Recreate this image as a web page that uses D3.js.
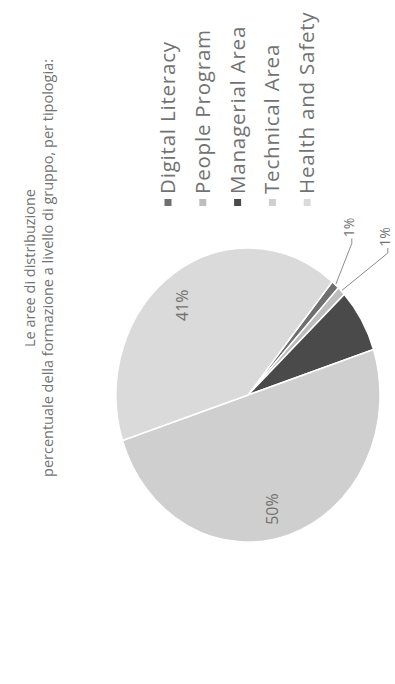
<!DOCTYPE html>
<html>
<head>
<meta charset="UTF-8">
<script src="https://d3js.org/d3.v7.min.js"></script>
<style>
  body { margin: 0; background: #fff; }
  svg { display: block; font-family: "Open Sans", Lato, sans-serif; }
</style>
</head>
<body>
<svg id="chart" width="395" height="684"></svg>
<script>
const categories = ["Digital Literacy", "People Program", "Managerial Area", "Technical Area", "Health and Safety"];
const shares = [1, 1, 7, 50, 41];
const showLabel = [true, true, false, true, true];
const titleLines = ["Le aree di distribuzione", "percentuale della formazione a livello di gruppo, per tipologia:"];

const svg = d3.select("#chart");
const textColor = "#727272";

const color = d3.scaleOrdinal()
  .domain(categories)
  .range(["#707070", "#bdbdbd", "#4a4a4a", "#cfcfcf", "#dadada"]);

// pie geometry (the scan is slightly stretched, hence sx / sy)
const cx = 248, cy = 395, R = 140, sx = 0.943, sy = 1.05;
const start = 39.6 * Math.PI / 180;
const pie = d3.pie().sort(null).value(d => d.v)
  .startAngle(start).endAngle(start + 2 * Math.PI);
const slices = pie(categories.map((c, i) => ({ c, v: shares[i], i })));
const arc = d3.arc().innerRadius(0).outerRadius(R);
const pt = (a, r) => [cx + sx * r * Math.sin(a), cy - sy * r * Math.cos(a)];
const mid = d => (d.startAngle + d.endAngle) / 2;

svg.append("g")
  .attr("transform", `translate(${cx},${cy}) scale(${sx},${sy})`)
  .selectAll("path")
  .data(slices)
  .join("path")
  .attr("d", arc)
  .attr("fill", d => color(d.data.c))
  .attr("stroke", "#fff")
  .attr("stroke-width", 1.5)
  .attr("vector-effect", "non-scaling-stroke");

const fmt = d => d3.format(".0f")(d) + "%";

// labels inside the big slices
const big = slices.filter(d => showLabel[d.data.i] && d.data.v >= 10);
svg.selectAll("text.big").data(big).join("text")
  .attr("class", "big")
  .attr("transform", d => { const p = pt(mid(d), R * 0.78); return `translate(${p[0] - 8},${p[1] + 5}) rotate(-90)`; })
  .attr("text-anchor", "middle")
  .attr("dominant-baseline", "central")
  .attr("font-size", 16)
  .attr("fill", textColor)
  .text(d => fmt(d.data.v));

// outside labels for the thin slices, stacked
const small = slices.filter(d => showLabel[d.data.i] && d.data.v < 5);
const smallPos = small.map((d, k) => [cx + R * 0.72 + k * 36, pt(mid(d), R * 1.52)[1]]);

svg.selectAll("polyline.lead").data(small).join("polyline")
  .attr("class", "lead")
  .attr("points", (d, k) => {
    const a = pt(mid(d), R + 1), p = smallPos[k];
    return [a, [p[0] + 3, p[1] + 16], [p[0] + 3, p[1] + 11]].map(q => q.join(",")).join(" ");
  })
  .attr("fill", "none")
  .attr("stroke", "#8a8a8a")
  .attr("stroke-width", 1);

svg.selectAll("text.small").data(small).join("text")
  .attr("class", "small")
  .attr("transform", (d, k) => `translate(${smallPos[k][0]},${smallPos[k][1]}) rotate(-90)`)
  .attr("text-anchor", "middle")
  .attr("dominant-baseline", "central")
  .attr("font-size", 14)
  .attr("fill", textColor)
  .text(d => fmt(d.data.v));

// title
svg.selectAll("text.title").data(titleLines).join("text")
  .attr("class", "title")
  .attr("transform", (d, i) => `translate(${35 + i * 18},268) rotate(-90)`)
  .attr("text-anchor", "middle")
  .attr("font-size", 14.5)
  .attr("fill", textColor)
  .text(d => d);

// legend
const legend = svg.selectAll("g.leg").data(categories).join("g")
  .attr("class", "leg")
  .attr("transform", (d, i) => `translate(${168 + i * 34.8},0)`);
legend.append("rect")
  .attr("x", -3.5).attr("y", 199).attr("width", 7).attr("height", 7)
  .attr("fill", d => color(d));
legend.append("text")
  .attr("transform", "translate(7,194) rotate(-90)")
  .attr("font-size", 20.5)
  .attr("letter-spacing", 0.8)
  .attr("fill", textColor)
  .text(d => d);
</script>
</body>
</html>
